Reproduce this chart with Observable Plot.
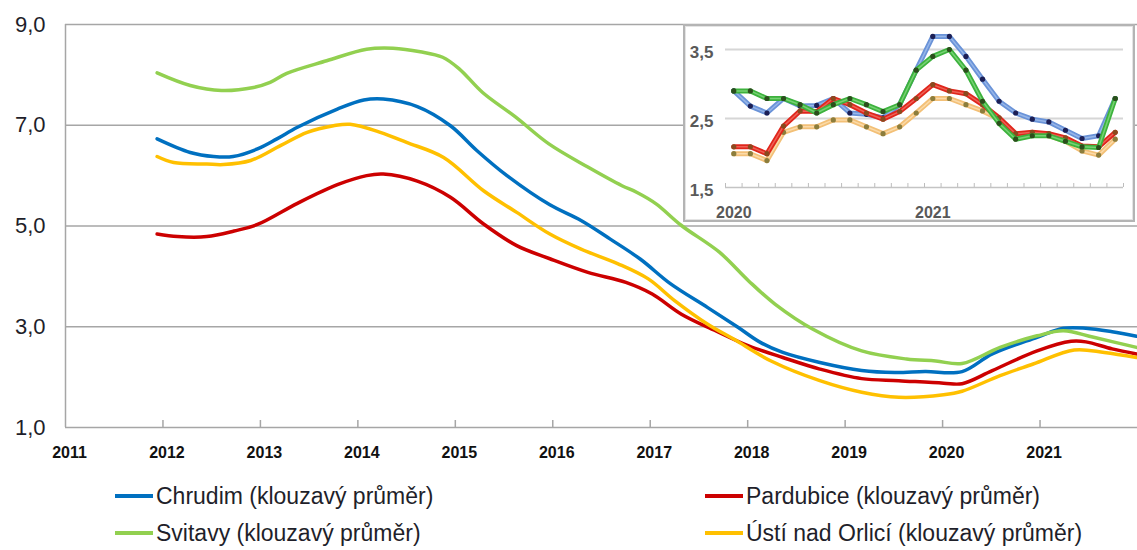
<!DOCTYPE html>
<html><head><meta charset="utf-8">
<script src="https://cdn.jsdelivr.net/npm/d3@7"></script>
<script src="https://cdn.jsdelivr.net/npm/@observablehq/plot@0.6"></script>
<style>
body{margin:0;background:#fff;}
#wrap{position:relative;width:1137px;height:550px;overflow:hidden;font-family:"Liberation Sans",Arial,sans-serif;background:#fff;}
#main{position:absolute;left:0;top:0;}
#inset{position:absolute;left:683px;top:24px;width:452px;height:198px;box-sizing:border-box;border:2px solid #b4b4b4;background:#fff;box-shadow:inset 0 0 0 1px #e4e4e4;}
#inset svg{display:block;}
.leg{position:absolute;font-size:23px;color:#1f1f2a;white-space:nowrap;display:flex;align-items:center;height:28px;line-height:28px;}
.sw{display:inline-block;width:38px;height:4px;margin-right:3px;}
</style></head><body><div id="wrap"><div id="main"></div><div id="inset"></div><div id="legend"></div></div>
<script>
// ---------- data: main chart (moving averages), [decimal year, value] ----------
const yearTicks = [2012,2013,2014,2015,2016,2017,2018,2019,2020,2021];
const yearLabels = [2011,2012,2013,2014,2015,2016,2017,2018,2019,2020,2021];
const yTicks = [1,3,5,7,9];
const seriesNames = ["Chrudim (klouzavý průměr)","Pardubice (klouzavý průměr)","Svitavy (klouzavý průměr)","Ústí nad Orlicí (klouzavý průměr)"];
const seriesColors = ["#0070c0","#cc0000","#92d050","#ffc000"];

const chrudim = [[2011.94,6.73],[2012.28,6.46],[2012.52,6.38],[2012.72,6.38],[2012.97,6.53],[2013.17,6.73],[2013.38,6.96],[2013.79,7.32],[2014.06,7.50],[2014.26,7.52],[2014.61,7.37],[2014.95,6.99],[2015.22,6.50],[2015.53,6.00],[2015.97,5.42],[2016.29,5.11],[2016.59,4.74],[2016.90,4.34],[2017.21,3.85],[2017.59,3.38],[2017.90,2.99],[2018.13,2.69],[2018.36,2.49],[2018.74,2.29],[2019.17,2.13],[2019.51,2.09],[2019.82,2.11],[2020.20,2.11],[2020.51,2.46],[2020.97,2.79],[2021.24,2.97],[2021.47,2.97],[2021.74,2.90],[2021.99,2.81]];
const pardubice = [[2011.94,4.84],[2012.15,4.79],[2012.45,4.79],[2012.73,4.90],[2012.97,5.03],[2013.38,5.45],[2013.79,5.82],[2014.09,6.00],[2014.26,6.03],[2014.61,5.89],[2014.95,5.57],[2015.29,5.04],[2015.63,4.61],[2015.97,4.35],[2016.36,4.08],[2016.75,3.88],[2017.02,3.65],[2017.32,3.25],[2017.67,2.92],[2018.01,2.62],[2018.36,2.39],[2018.74,2.16],[2019.17,1.97],[2019.55,1.93],[2020.01,1.88],[2020.20,1.87],[2020.51,2.13],[2020.97,2.52],[2021.32,2.71],[2021.47,2.70],[2021.74,2.56],[2021.99,2.46]];
const svitavy = [[2011.94,8.04],[2012.28,7.79],[2012.60,7.69],[2012.93,7.75],[2013.10,7.85],[2013.27,8.03],[2013.68,8.28],[2014.09,8.51],[2014.36,8.53],[2014.64,8.46],[2014.87,8.35],[2015.04,8.12],[2015.28,7.65],[2015.62,7.16],[2015.96,6.63],[2016.36,6.17],[2016.71,5.80],[2016.86,5.67],[2017.06,5.44],[2017.32,5.01],[2017.71,4.48],[2018.01,3.91],[2018.28,3.45],[2018.67,2.95],[2019.17,2.52],[2019.63,2.36],[2019.93,2.32],[2020.20,2.27],[2020.59,2.59],[2020.97,2.82],[2021.24,2.92],[2021.55,2.79],[2021.99,2.59]];
const usti = [[2011.94,6.38],[2012.11,6.26],[2012.45,6.23],[2012.62,6.22],[2012.90,6.30],[2013.21,6.60],[2013.48,6.86],[2013.75,6.99],[2013.92,7.02],[2014.23,6.86],[2014.50,6.66],[2014.88,6.36],[2015.29,5.70],[2015.63,5.27],[2015.97,4.84],[2016.29,4.54],[2016.67,4.25],[2016.98,3.95],[2017.25,3.52],[2017.59,3.05],[2017.86,2.75],[2018.24,2.32],[2018.74,1.93],[2019.17,1.70],[2019.55,1.60],[2020.01,1.65],[2020.20,1.72],[2020.59,2.03],[2020.93,2.26],[2021.35,2.54],[2021.66,2.49],[2021.99,2.39]];

// ---------- data: inset (monthly, Jan 2020 - Dec 2021) ----------
const insetYears = ["2020","2021"];
const insetYTicks = [1.5,2.5,3.5];
const insetChrudim   = [2.90,2.68,2.58,2.79,2.68,2.69,2.79,2.58,2.56,2.51,2.70,3.20,3.69,3.69,3.40,3.07,2.75,2.58,2.49,2.45,2.33,2.21,2.25,2.79];
const insetSvitavy   = [2.90,2.90,2.79,2.79,2.70,2.58,2.70,2.79,2.70,2.60,2.70,3.20,3.40,3.50,3.20,2.75,2.43,2.20,2.25,2.25,2.17,2.09,2.08,2.79];
const insetPardubice = [2.09,2.09,1.99,2.39,2.61,2.60,2.79,2.70,2.58,2.49,2.60,2.79,2.99,2.90,2.86,2.70,2.51,2.28,2.30,2.28,2.22,2.10,2.09,2.30];
const insetUsti      = [1.99,1.99,1.89,2.30,2.38,2.38,2.48,2.48,2.38,2.28,2.38,2.58,2.79,2.79,2.70,2.61,2.49,2.27,2.27,2.25,2.17,2.03,1.97,2.20];

const fmt = d => d.toFixed(1).replace(".", ",");
const X = d => d[0], Y = d => d[1];

const mainSeries = [chrudim, pardubice, svitavy, usti];
const main = Plot.plot({
  width: 1137, height: 470,
  marginLeft: 65, marginRight: 0, marginTop: 24, marginBottom: 43,
  x: {domain: [2011, 2022]},
  y: {domain: [1, 9]},
  style: {fontFamily: "Liberation Sans, Arial, sans-serif", overflow: "visible", background: "transparent"},
  marks: [
    Plot.ruleY(yTicks.filter(t => t > 1), {stroke: "#a6a6a6", strokeWidth: 1.5}),
    Plot.ruleY([1], {stroke: "#a6a6a6", strokeWidth: 1.5}),
    Plot.ruleX([2011], {stroke: "#a6a6a6", strokeWidth: 1.5}),
    Plot.axisY({ticks: yTicks, tickSize: 0, tickPadding: 20, tickFormat: fmt, fontSize: 22, fill: "#1e1e2a", label: null}),
    Plot.axisX({ticks: yearTicks, tickSize: 7, dy: -7, tickFormat: () => "", stroke: "#a6a6a6", strokeWidth: 1.5, label: null}),
    Plot.axisX({ticks: yearLabels, tickSize: 0, tickPadding: 19, tickFormat: d => String(d), fontSize: 16, fontWeight: "bold", fill: "#111", dx: 4, label: null}),
    ...mainSeries.map((s, i) => Plot.line(s, {x: X, y: Y, stroke: seriesColors[i], strokeWidth: 3.5, curve: "catmull-rom"}))
  ]
});
document.getElementById("main").appendChild(main);

// inset
const insetStyles = [
  {data: insetChrudim,   line: "#6a93d8", hi: "#a9c4ef", dot: "#1c1f55"},
  {data: insetUsti,      line: "#f3c077", hi: "#fde6bd", dot: "#8c7d3c"},
  {data: insetPardubice, line: "#e0261c", hi: "#f47a6e", dot: "#8a4a1e"},
  {data: insetSvitavy,   line: "#3db23d", hi: "#8fe08a", dot: "#2b4f1c"}
];
const insetMarks = [];
insetStyles.forEach(s => {
  insetMarks.push(Plot.line(s.data, {x: (d, i) => i + 0.5, y: d => d, stroke: s.line, strokeWidth: 5}));
  insetMarks.push(Plot.line(s.data, {x: (d, i) => i + 0.5, y: d => d, stroke: s.hi, strokeWidth: 1.5, strokeOpacity: 0.7}));
  insetMarks.push(Plot.dot(s.data, {x: (d, i) => i + 0.5, y: d => d, r: 2.6, fill: s.dot, stroke: "none"}));
});
const inset = Plot.plot({
  width: 448, height: 194,
  marginLeft: 40, marginRight: 10, marginTop: 23, marginBottom: 33,
  x: {domain: [0, 24]},
  y: {domain: [1.5, 3.5]},
  style: {fontFamily: "Liberation Sans, Arial, sans-serif", overflow: "visible", background: "transparent"},
  marks: [
    Plot.ruleY([2.5, 3.5], {stroke: "#d6d6d6", strokeWidth: 2}),
    Plot.ruleY([1.5], {stroke: "#c4c4c4", strokeWidth: 1.5}),
    Plot.axisX({ticks: d3.range(25), tickSize: 4, dy: -4, tickFormat: () => "", stroke: "#bdbdbd", label: null}),
    Plot.axisX({ticks: [0.5, 12.5], tickSize: 0, tickPadding: 19, tickFormat: (d, i) => insetYears[i], fontSize: 16, fontWeight: "bold", fill: "#595959", label: null}),
    Plot.axisY({ticks: insetYTicks, tickSize: 0, tickPadding: 12, tickFormat: fmt, fontSize: 17, fontWeight: "bold", fill: "#595959", dy: 3, label: null}),
    ...insetMarks
  ]
});
document.getElementById("inset").appendChild(inset);

// legend
const legendPos = [[115, 482], [705, 482], [115, 519], [705, 519]];
const legendOrder = [0, 1, 2, 3];
const legend = document.getElementById("legend");
legendOrder.forEach((k, j) => {
  const el = document.createElement("div");
  el.className = "leg";
  el.style.left = legendPos[j][0] + "px";
  el.style.top = legendPos[j][1] + "px";
  const sw = document.createElement("span");
  sw.className = "sw";
  sw.style.background = seriesColors[k];
  el.appendChild(sw);
  el.appendChild(document.createTextNode(seriesNames[k]));
  legend.appendChild(el);
});
</script>
</body></html>
